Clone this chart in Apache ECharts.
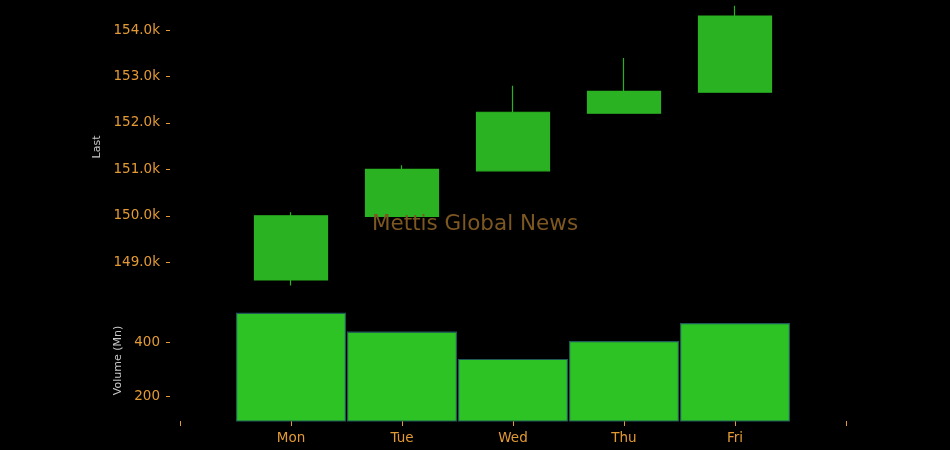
<!DOCTYPE html>
<html>
<head>
<meta charset="utf-8">
<script src="https://cdn.jsdelivr.net/npm/echarts@6/dist/echarts.min.js"></script>
<style>
html,body{margin:0;padding:0;background:#000;}
#chart{width:950px;height:450px;}
</style>
</head>
<body>
<div id="chart"></div>
<script>
// ---- data ----
var days = ['Mon', 'Tue', 'Wed', 'Thu', 'Fri'];
var openVals  = [148620, 149990, 150970, 152210, 152660];
var closeVals = [150000, 151000, 152230, 152680, 154300];
var lowVals   = [148500, 149990, 150960, 152200, 152650];
var highVals  = [150080, 151090, 152800, 153400, 154520];
var volumeVals = [511, 441, 340, 406, 473];
var priceTicks = [149000, 150000, 151000, 152000, 153000, 154000];
var volumeTicks = [200, 400];
var watermark = 'Mettis Global News';

// ---- build ----
var cats = [''].concat(days).concat(['']);
var candleData = days.map(function (d, i) {
  return [d, openVals[i], closeVals[i], lowVals[i], highVals[i]];
});
var volData = days.map(function (d, i) { return [d, volumeVals[i]]; });

var orange = '#e39a34';
var font = 'DejaVu Sans';
var chart = echarts.init(document.getElementById('chart'));
var gridLeft = 180, gridRight = 104;

chart.setOption({
  backgroundColor: '#000000',
  animation: false,
  grid: [
    { left: gridLeft, right: gridRight, top: 2, height: 290 },
    { left: gridLeft, right: gridRight, top: 300, height: 121 }
  ],
  xAxis: [
    { type: 'category', gridIndex: 0, data: cats, boundaryGap: false, show: false },
    {
      type: 'category', gridIndex: 1, data: cats, boundaryGap: false,
      axisLine: { show: false },
      axisTick: { show: true, length: 5, lineStyle: { color: orange, width: 1 } },
      axisLabel: { color: orange, fontFamily: font, fontSize: 13.5, margin: 10, interval: 0 },
      splitLine: { show: false }
    }
  ],
  yAxis: [
    {
      type: 'value', gridIndex: 0, min: 148361, max: 154603, offset: 10,
      name: 'Last', nameLocation: 'middle', nameGap: 63,
      nameTextStyle: { color: '#c8c8c8', fontFamily: font, fontSize: 11 },
      axisLine: { show: false },
      axisTick: { show: true, length: 4, lineStyle: { color: orange }, customValues: priceTicks },
      axisLabel: {
        color: orange, fontFamily: font, fontSize: 13.5, margin: 10, customValues: priceTicks,
        formatter: function (v) { return (v / 1000).toFixed(1) + 'k'; }
      },
      splitLine: { show: false }
    },
    {
      type: 'value', gridIndex: 1, min: 110, max: 558, offset: 10,
      name: 'Volume (Mn)', nameLocation: 'middle', nameGap: 43,
      nameTextStyle: { color: '#c8c8c8', fontFamily: font, fontSize: 11 },
      axisLine: { show: false },
      axisTick: { show: true, length: 4, lineStyle: { color: orange }, customValues: volumeTicks },
      axisLabel: { color: orange, fontFamily: font, fontSize: 13.5, margin: 10, customValues: volumeTicks },
      splitLine: { show: false }
    }
  ],
  graphic: [{
    type: 'text', z: 10, x: 475, y: 224,
    style: {
      text: watermark, textAlign: 'center', textVerticalAlign: 'middle',
      fill: '#7d5722', font: '21.5px "DejaVu Sans"'
    }
  }],
  series: [
    {
      type: 'candlestick', xAxisIndex: 0, yAxisIndex: 0,
      data: candleData, encode: { x: 0, y: [1, 2, 3, 4] },
      barWidth: 74,
      itemStyle: {
        color: '#2ab222', borderColor: '#2ab222', borderWidth: 1.2,
        color0: '#2ab222', borderColor0: '#2ab222'
      }
    },
    {
      type: 'bar', xAxisIndex: 1, yAxisIndex: 1,
      data: volData, encode: { x: 0, y: 1 },
      barWidth: 110,
      itemStyle: { color: '#2ec325', borderColor: '#1f5a58', borderWidth: 1.2 }
    }
  ]
});
</script>
</body>
</html>
